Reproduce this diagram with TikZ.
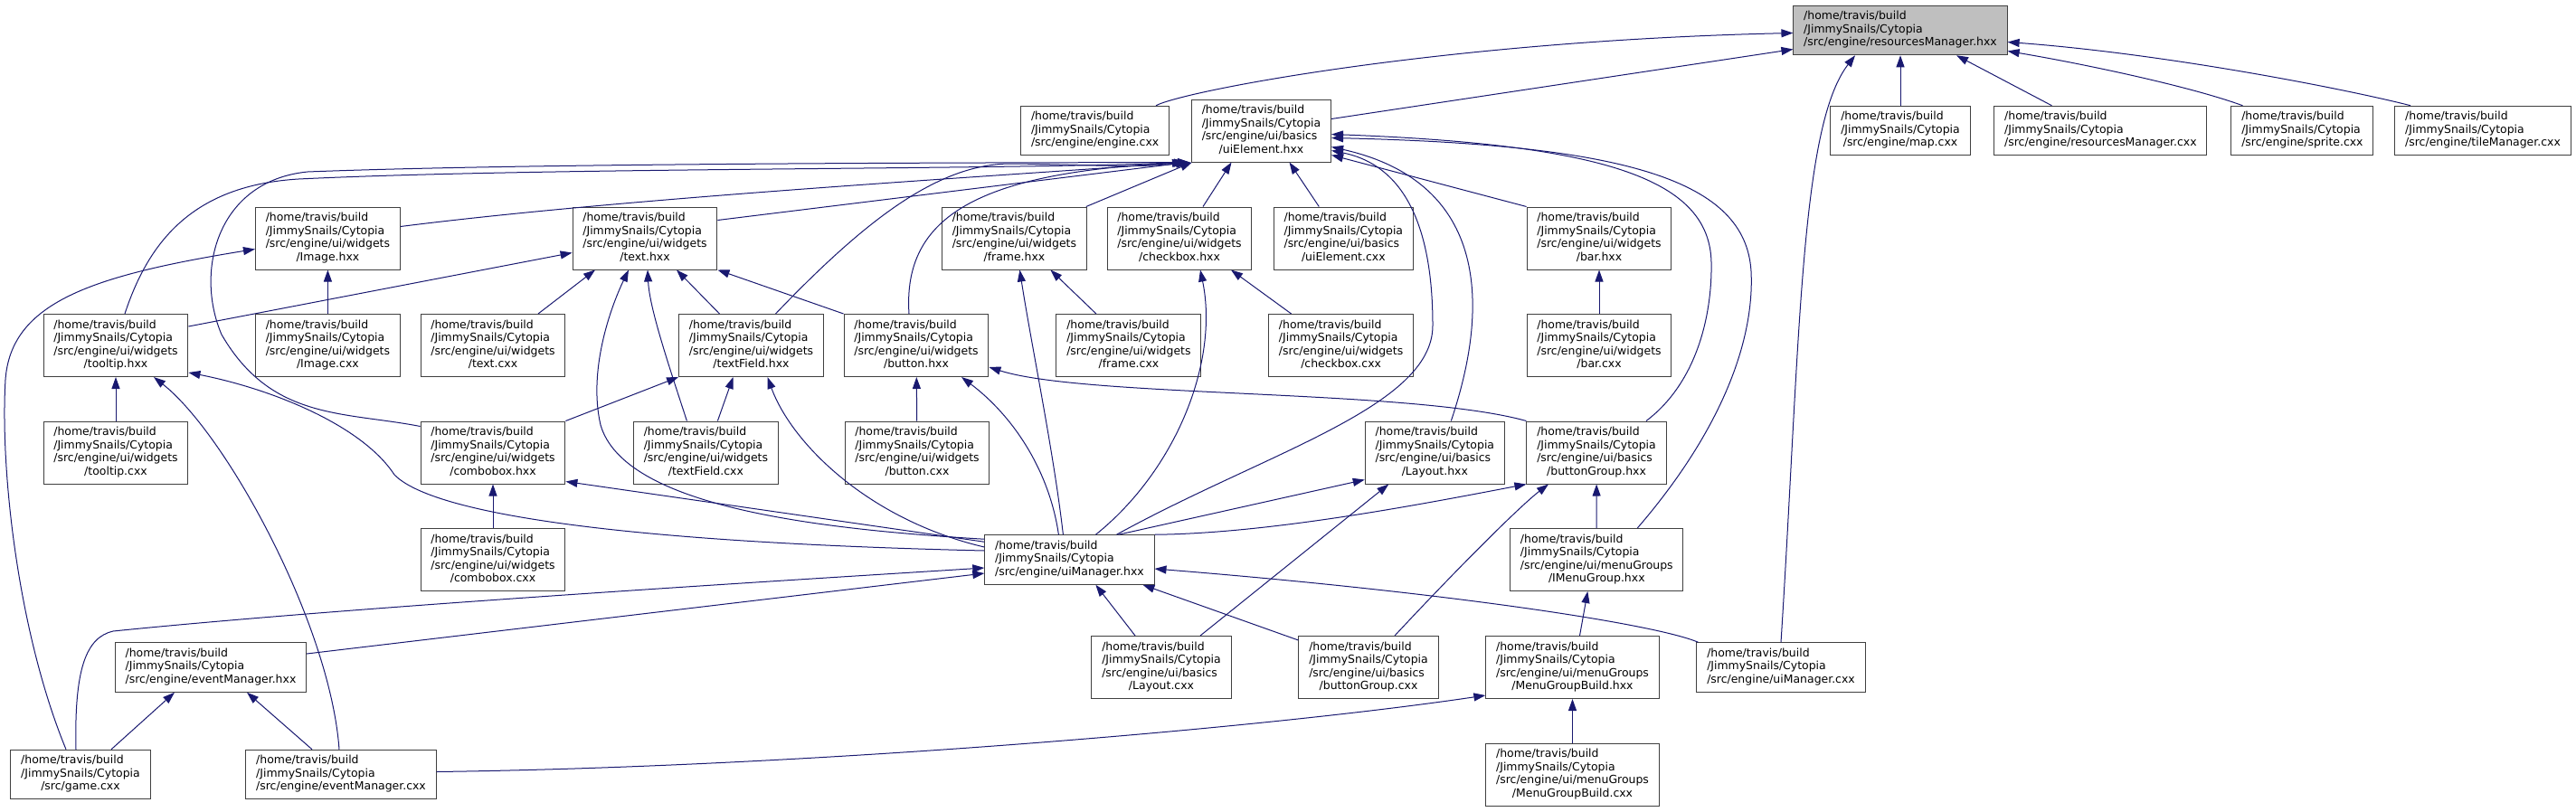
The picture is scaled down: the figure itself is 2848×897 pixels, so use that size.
\documentclass[tikz,border=0pt]{standalone}
\usepackage{fontspec}
\setmainfont{DejaVu Sans}
\usetikzlibrary{arrows.meta,calc}
\definecolor{midblue}{HTML}{191970}
\newcommand{\pathfour}[2]{\begin{tabular}{@{}l@{}}/home/travis/build\\/JimmySnails/Cytopia\\#1\\\multicolumn{1}{@{}c@{}}{#2}\end{tabular}}
\newcommand{\paththree}[1]{\begin{tabular}{@{}l@{}}/home/travis/build\\/JimmySnails/Cytopia\\\multicolumn{1}{@{}c@{}}{#1}\end{tabular}}
\tikzset{
  file/.style={draw=black!75, fill=white, line width=1pt, inner xsep=11.3pt, inner ysep=5.5pt, font=\fontsize{12.45}{14.5}\selectfont},
  root/.style={file, fill=black!25},
  incl/.style={draw=midblue, line width=1pt, -{Triangle[length=13pt,width=9pt,fill=midblue]}}
}
\begin{document}
\begin{tikzpicture}[x=1pt, y=-1pt]
\useasboundingbox (0,0) rectangle (2848,897);
\node[root] (rm) at (2101,33.5) {\paththree{/src/engine/resourcesManager.hxx}};
\node[file] (engine) at (1210.6,144.5) {\paththree{/src/engine/engine.cxx}};
\node[file] (uielem) at (1394.5,144.5) {\pathfour{/src/engine/ui/basics}{/uiElement.hxx}};
\node[file] (mapcxx) at (2101,144.5) {\paththree{/src/engine/map.cxx}};
\node[file] (rmcxx) at (2322.4,144.5) {\paththree{/src/engine/resourcesManager.cxx}};
\node[file] (sprite) at (2545.4,144.5) {\paththree{/src/engine/sprite.cxx}};
\node[file] (tilemgr) at (2745,144.5) {\paththree{/src/engine/tileManager.cxx}};
\node[file] (imagehxx) at (362.4,263.5) {\pathfour{/src/engine/ui/widgets}{/Image.hxx}};
\node[file] (texthxx) at (713,263.5) {\pathfour{/src/engine/ui/widgets}{/text.hxx}};
\node[file] (framehxx) at (1121.4,263.5) {\pathfour{/src/engine/ui/widgets}{/frame.hxx}};
\node[file] (checkhxx) at (1304,263.5) {\pathfour{/src/engine/ui/widgets}{/checkbox.hxx}};
\node[file] (uielemcxx) at (1485.3,263.5) {\pathfour{/src/engine/ui/basics}{/uiElement.cxx}};
\node[file] (barhxx) at (1768,263.5) {\pathfour{/src/engine/ui/widgets}{/bar.hxx}};
\node[file] (tooltiphxx) at (128,382) {\pathfour{/src/engine/ui/widgets}{/tooltip.hxx}};
\node[file] (imagecxx) at (362.4,382) {\pathfour{/src/engine/ui/widgets}{/Image.cxx}};
\node[file] (textcxx) at (545,382) {\pathfour{/src/engine/ui/widgets}{/text.cxx}};
\node[file] (tfieldhxx) at (830.5,382) {\pathfour{/src/engine/ui/widgets}{/textField.hxx}};
\node[file] (buttonhxx) at (1013,382) {\pathfour{/src/engine/ui/widgets}{/button.hxx}};
\node[file] (framecxx) at (1247.9,382) {\pathfour{/src/engine/ui/widgets}{/frame.cxx}};
\node[file] (checkcxx) at (1482.6,382) {\pathfour{/src/engine/ui/widgets}{/checkbox.cxx}};
\node[file] (barcxx) at (1768,382) {\pathfour{/src/engine/ui/widgets}{/bar.cxx}};
\node[file] (tooltipcxx) at (128,500.5) {\pathfour{/src/engine/ui/widgets}{/tooltip.cxx}};
\node[file] (combohxx) at (545,500.5) {\pathfour{/src/engine/ui/widgets}{/combobox.hxx}};
\node[file] (tfieldcxx) at (780.4,500.5) {\pathfour{/src/engine/ui/widgets}{/textField.cxx}};
\node[file] (buttoncxx) at (1014,500.5) {\pathfour{/src/engine/ui/widgets}{/button.cxx}};
\node[file] (layouthxx) at (1586.3,500.5) {\pathfour{/src/engine/ui/basics}{/Layout.hxx}};
\node[file] (bgrouphxx) at (1765,500.5) {\pathfour{/src/engine/ui/basics}{/buttonGroup.hxx}};
\node[file] (combocxx) at (545,619) {\pathfour{/src/engine/ui/widgets}{/combobox.cxx}};
\node[file] (uimgrhxx) at (1182.4,619) {\paththree{/src/engine/uiManager.hxx}};
\node[file] (imenuhxx) at (1765.3,619) {\pathfour{/src/engine/ui/menuGroups}{/IMenuGroup.hxx}};
\node[file] (evmgrhxx) at (233,738) {\paththree{/src/engine/eventManager.hxx}};
\node[file] (layoutcxx) at (1284,738) {\pathfour{/src/engine/ui/basics}{/Layout.cxx}};
\node[file] (bgroupcxx) at (1513,738) {\pathfour{/src/engine/ui/basics}{/buttonGroup.cxx}};
\node[file] (mgbhxx) at (1738.5,738) {\pathfour{/src/engine/ui/menuGroups}{/MenuGroupBuild.hxx}};
\node[file] (uimgrcxx) at (1969,738) {\paththree{/src/engine/uiManager.cxx}};
\node[file] (gamecxx) at (89,856.5) {\paththree{/src/game.cxx}};
\node[file] (evmgrcxx) at (377,856.5) {\paththree{/src/engine/eventManager.cxx}};
\node[file] (mgbcxx) at (1738.5,856.5) {\pathfour{/src/engine/ui/menuGroups}{/MenuGroupBuild.cxx}};
% resourcesManager.hxx
\draw[incl] ($(engine.north east)+(-15,0)$) .. controls (1310,100) and (1600,45) .. ($(rm.west)+(0,3)$);
\draw[incl] ($(uielem.east)+(0,-13)$) -- ($(rm.west)+(0,21)$);
\draw[incl] (mapcxx) -- (rm);
\draw[incl] ($(rmcxx.north)+(-54,0)$) -- ($(rm.south)+(62,0)$);
\draw[incl] ($(sprite.north)+(-66,0)$) .. controls (2420,95) and (2300,70) .. ($(rm.east)+(0,23)$);
\draw[incl] ($(tilemgr.north)+(-80,0)$) .. controls (2600,100) and (2400,60) .. ($(rm.east)+(0,13)$);
\draw[incl] (uimgrcxx.north) .. controls (1990,380) and (1990,140) .. ($(rm.south)+(-50,0)$);
% uiElement.hxx
\draw[incl] ($(imagehxx.east)+(0,-13)$) .. controls (700,218) and (1100,195) .. ($(uielem.south west)+(-8,0)$);
\draw[incl] ($(texthxx.east)+(0,-20)$) -- ($(uielem.south west)+(-4,0)$);
\draw[incl] ($(tooltiphxx.north)+(10,0)$) .. controls (165,265) and (215,205) .. (330,198) .. controls (600,185) and (1100,188) .. ($(uielem.south west)+(-6,0)$);
\draw[incl] ($(combohxx.west)+(0,-29)$) .. controls (380,455) and (300,465) .. (245,370) .. controls (215,300) and (240,200) .. (340,190) .. controls (600,180) and (1100,180) .. ($(uielem.south west)+(-2,0)$);
\draw[incl] ($(tfieldhxx.north)+(27,0)$) .. controls (960,240) and (1040,180) .. (1120,181) .. controls (1200,182) and (1260,186) .. ($(uielem.south west)+(-3,0)$);
\draw[incl] ($(buttonhxx.north)+(-8,0)$) .. controls (998,240) and (1080,190) .. ($(uielem.south west)+(-1,0)$);
\draw[incl] ($(framehxx.north east)+(-1,0)$) -- ($(uielem.south west)+(1,0)$);
\draw[incl] ($(checkhxx.north)+(26,0)$) -- ($(uielem.south)+(-33,0)$);
\draw[incl] ($(uielemcxx.north)+(-27,0)$) -- ($(uielem.south)+(31,0)$);
\draw[incl] (barhxx.north west) -- ($(uielem.east)+(0,27)$);
\draw[incl] ($(layouthxx.north)+(18,0)$) .. controls (1650,330) and (1640,200) .. ($(uielem.east)+(0,18)$);
\draw[incl] ($(uimgrhxx.north)+(52,0)$) .. controls (1400,500) and (1584,450) .. (1584,360) .. controls (1584,230) and (1540,180) .. ($(uielem.east)+(0,22)$);
\draw[incl] ($(bgrouphxx.north)+(55,0)$) .. controls (1880,420) and (1893,340) .. (1892,290) .. controls (1890,200) and (1780,160) .. ($(uielem.east)+(0,4)$);
\draw[incl] ($(imenuhxx.north)+(45,0)$) .. controls (1900,480) and (1940,380) .. (1936,300) .. controls (1930,200) and (1800,160) .. ($(uielem.east)+(0,8)$);
% widgets
\draw[incl] ($(textcxx.north)+(50,0)$) -- ($(texthxx.south)+(-55,0)$);
\draw[incl] ($(uimgrhxx.north west)+(0,5)$) .. controls (900,585) and (690,560) .. (664,470) .. controls (650,410) and (675,340) .. ($(texthxx.south)+(-18,0)$);
\draw[incl] ($(tfieldcxx.north)+(-21,0)$) .. controls (738,400) and (718,340) .. ($(texthxx.south)+(3,0)$);
\draw[incl] ($(tfieldhxx.north)+(-35,0)$) -- ($(texthxx.south)+(35,0)$);
\draw[incl] (buttonhxx.north west) -- (texthxx.south east);
\draw[incl] ($(tooltiphxx.east)+(0,-21)$) -- ($(texthxx.west)+(0,16)$);
\draw[incl] (imagecxx) -- (imagehxx);
\draw[incl] ($(gamecxx.north)+(-16,0)$) .. controls (20,700) and (0,520) .. (6,420) .. controls (12,335) and (100,305) .. ($(imagehxx.west)+(0,12)$);
\draw[incl] (tooltipcxx) -- (tooltiphxx);
\draw[incl] ($(evmgrcxx.north)+(-2,0)$) .. controls (365,690) and (250,480) .. ($(tooltiphxx.south)+(42,0)$);
\draw[incl] ($(uimgrhxx.west)+(0,-10)$) .. controls (700,600) and (480,570) .. (436,525) .. controls (400,470) and (300,430) .. ($(tooltiphxx.east)+(0,30)$);
\draw[incl] (combocxx) -- (combohxx);
\draw[incl] ($(uimgrhxx.north west)+(0,8)$) -- ($(combohxx.east)+(0,32)$);
\draw[incl] (combohxx.north east) -- (tfieldhxx.south west);
\draw[incl] ($(tfieldcxx.north)+(13,0)$) -- ($(tfieldhxx.south)+(-20,0)$);
\draw[incl] ($(uimgrhxx.west)+(0,-14)$) .. controls (960,575) and (875,490) .. ($(tfieldhxx.south)+(18,0)$);
\draw[incl] (buttoncxx) -- (buttonhxx);
\draw[incl] ($(uimgrhxx.north)+(-12,0)$) .. controls (1160,520) and (1120,460) .. ($(buttonhxx.south)+(50,0)$);
\draw[incl] (bgrouphxx.north west) .. controls (1560,430) and (1200,440) .. ($(buttonhxx.east)+(0,24)$);
\draw[incl] ($(framecxx.north)+(-36,0)$) -- ($(framehxx.south)+(40,0)$);
\draw[incl] ($(uimgrhxx.north)+(-7,0)$) .. controls (1165,500) and (1140,380) .. ($(framehxx.south)+(6,0)$);
\draw[incl] ($(checkcxx.north)+(-55,0)$) -- ($(checkhxx.south)+(57,0)$);
\draw[incl] ($(uimgrhxx.north)+(29,0)$) .. controls (1300,520) and (1348,400) .. ($(checkhxx.south)+(23,0)$);
\draw[incl] (barcxx) -- (barhxx);
% basics and menus
\draw[incl] ($(layoutcxx.north)+(43,0)$) -- ($(layouthxx.south)+(-51,0)$);
\draw[incl] ($(uimgrhxx.north east)+(-40,0)$) -- ($(layouthxx.west)+(0,30)$);
\draw[incl] (imenuhxx) -- (bgrouphxx);
\draw[incl] ($(bgroupcxx.north)+(29,0)$) .. controls (1610,630) and (1680,560) .. ($(bgrouphxx.south)+(-53,0)$);
\draw[incl] (uimgrhxx.north east) .. controls (1400,590) and (1560,560) .. (bgrouphxx.south west);
\draw[incl] ($(mgbhxx.north)+(8,0)$) -- ($(imenuhxx.south)+(-10,0)$);
\draw[incl] (mgbcxx) -- (mgbhxx);
\draw[incl] ($(evmgrcxx.east)+(0,-3)$) .. controls (900,848) and (1400,805) .. ($(mgbhxx.west)+(0,31)$);
% eventManager.hxx and uiManager.hxx
\draw[incl] ($(gamecxx.north)+(34,0)$) -- ($(evmgrhxx.south)+(-40,0)$);
\draw[incl] ($(evmgrcxx.north)+(-32,0)$) -- ($(evmgrhxx.south)+(40,0)$);
\draw[incl] ($(gamecxx.north)+(-5,0)$) .. controls (82,740) and (95,705) .. (125,698) .. controls (400,670) and (900,640) .. ($(uimgrhxx.west)+(0,9)$);
\draw[incl] ($(evmgrhxx.east)+(0,-15)$) -- ($(uimgrhxx.west)+(0,15)$);
\draw[incl] ($(layoutcxx.north)+(-29,0)$) -- ($(uimgrhxx.south)+(29,0)$);
\draw[incl] ($(bgroupcxx.north west)+(0,5)$) -- ($(uimgrhxx.south)+(81,0)$);
\draw[incl] ($(uimgrcxx.north west)+(2,0)$) .. controls (1830,690) and (1600,655) .. ($(uimgrhxx.east)+(0,10)$);
\end{tikzpicture}
\end{document}
